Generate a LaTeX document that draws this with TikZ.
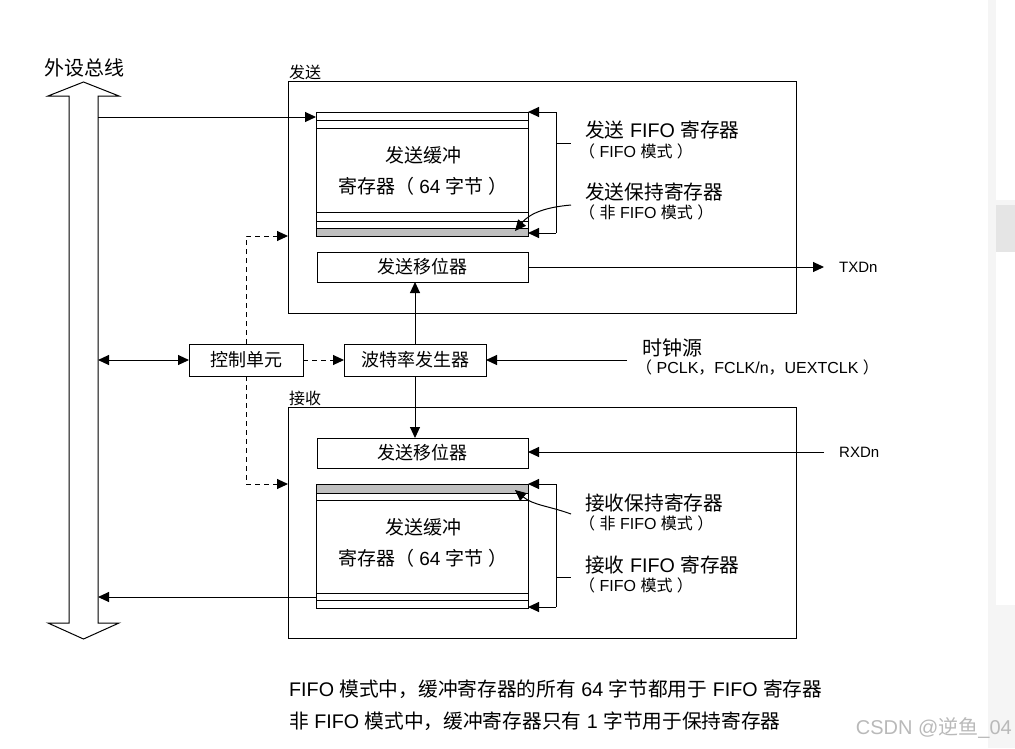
\documentclass[tikz,border=0pt]{standalone}
\usepackage{fontspec}
\setmainfont{Liberation Sans}
\newfontfamily\zhfont{Noto Sans CJK SC}
\newcommand{\zh}[1]{{\zhfont #1}}
\usetikzlibrary{arrows.meta}

\begin{document}
\begin{tikzpicture}[x=1pt, y=-1pt,
		boite/.style={draw, line width=1pt, outer sep=0pt, inner sep=0pt},
		fleche/.style={line width=1pt, -{Triangle[length=11pt,width=10pt]}},
		pointille/.style={fleche, dash pattern=on 5pt off 4pt},
		titre/.style={font=\fontsize{16}{18}\selectfont\zhfont, anchor=south west, inner sep=1pt},
		legende/.style={font=\fontsize{19.7}{22}\selectfont, anchor=west, inner sep=0pt},
		mode/.style={font=\fontsize{16}{18}\selectfont, anchor=west, inner sep=0pt},
		texte/.style={font=\fontsize{18}{20}\selectfont\zhfont}]
	\useasboundingbox (0,0) rectangle (1015,748);

	% Barre laterale
	\fill[gray!8] (988,0) rectangle (1015,748);
	\fill[white] (996,0) rectangle (1015,200);
	\fill[gray!20] (996,205) rectangle (1015,252);
	\fill[white] (996,252) rectangle (1015,605);

	% Bus peripherique
	\draw[line width=1pt, fill=white] (83.5,82) -- (119,96) -- (98,96) -- (98,623) -- (119,623)
		-- (83.5,639) -- (48,623) -- (69,623) -- (69,96) -- (48,96) -- cycle;
	\node[font=\fontsize{20}{22}\selectfont\zhfont] (bus) at (84,68) {外设总线};
	\coordinate (busR) at (98,360);

	% Emission
	\node[boite, minimum width=508, minimum height=232] (tx) at (542,197) {};
	\node[titre] (txtitre) at (tx.north west) {发送};
	\fill[gray!50] (316,228) rectangle (528,236);
	\foreach \y in {120,128,212,221,228}
		\draw[line width=1pt] (316,\y) -- (528,\y);
	\node[boite, minimum width=212, minimum height=124] (txfifo) at (422,174) {};
	\node[font=\fontsize{19}{31}\selectfont, align=center] (txfifotxt) at (423,170.5) {\zh{发送缓冲}\\\zh{寄存器（} 64 \zh{字节} \zh{）}};
	\node[boite, texte, minimum width=211, minimum height=30] (txshift) at (422.5,267) {发送移位器};

	% Accolade emission
	\coordinate (txbh) at (556,112);
	\coordinate (txbb) at (556,233);
	\draw[line width=1pt] (txbh) -- (txbb);
	\draw[fleche] (txbh) -- (txbh -| txfifo.east);
	\draw[fleche] (txbb) -- (txbb -| txfifo.east);
	\draw[line width=1pt] (556,143) -- (571,143);
	\draw[fleche] (571,205) to[out=185,in=50] (515,231);

	\node[legende] (txfifolbl) at (585,130) {\zh{发送} FIFO \zh{寄存器}};
	\node[mode] (txfifomode) at (579,151) {\zh{（} FIFO \zh{模式} \zh{）}};
	\node[legende] (txholdlbl) at (585,192) {\zh{发送保持寄存器}};
	\node[mode] (txholdmode) at (579,212) {\zh{（} \zh{非} FIFO \zh{模式} \zh{）}};

	\node[anchor=west, inner sep=0pt, font=\fontsize{15}{17}\selectfont] (txd) at (839,267) {TXDn};
	\draw[fleche, shorten >=15pt] (txshift.east) -- (txd.west);
	\draw[fleche] (busR |- 0,117) -- (txfifo.west |- 0,117);

	% Controle et horloge
	\node[boite, texte, minimum width=114, minimum height=32] (ctrl) at (246,360) {控制单元};
	\node[boite, texte, minimum width=142, minimum height=32] (baud) at (415,360) {波特率发生器};
	\draw[line width=1pt, {Triangle[length=11pt,width=10pt]}-{Triangle[length=11pt,width=10pt]}] (busR) -- (ctrl.west);
	\draw[pointille] (ctrl.east) -- (baud.west);
	\draw[fleche] (baud.north) -- (baud.north |- txshift.south);

	\coordinate (clk) at (627,360);
	\draw[fleche] (clk) -- (baud.east);
	\node[legende, font=\fontsize{20}{22}\selectfont\zhfont] (clktxt) at (642,348) {时钟源};
	\node[mode] (clksrc) at (636,367) {\zh{（} PCLK\zh{，}FCLK/n\zh{，}UEXTCLK \zh{）}};

	% Reception
	\node[boite, minimum width=508, minimum height=231] (rx) at (542,522.5) {};
	\node[titre] (rxtitre) at (rx.north west) {接收};
	\node[boite, texte, minimum width=211, minimum height=30] (rxshift) at (422.5,453) {发送移位器};
	\fill[gray!50] (316,484) rectangle (528,493);
	\foreach \y in {493,500,593,600}
		\draw[line width=1pt] (316,\y) -- (528,\y);
	\node[boite, minimum width=212, minimum height=124] (rxfifo) at (422,546) {};
	\node[font=\fontsize{19}{31}\selectfont, align=center] (rxfifotxt) at (423,542.5) {\zh{发送缓冲}\\\zh{寄存器（} 64 \zh{字节} \zh{）}};
	\draw[fleche] (baud.south) -- (baud.south |- rxshift.north);

	% Accolade reception
	\coordinate (rxbh) at (556,484);
	\coordinate (rxbb) at (556,607);
	\draw[line width=1pt] (rxbh) -- (rxbb);
	\draw[fleche] (rxbh) -- (rxbh -| rxfifo.east);
	\draw[fleche] (rxbb) -- (rxbb -| rxfifo.east);
	\draw[line width=1pt] (556,577) -- (571,577);
	\draw[fleche] (571,514) to[out=160,in=-40] (515,490);

	\node[legende] (rxholdlbl) at (585,503) {\zh{接收保持寄存器}};
	\node[mode] (rxholdmode) at (579,523) {\zh{（} \zh{非} FIFO \zh{模式} \zh{）}};
	\node[legende] (rxfifolbl) at (585,565) {\zh{接收} FIFO \zh{寄存器}};
	\node[mode] (rxfifomode) at (579,585) {\zh{（} FIFO \zh{模式} \zh{）}};

	\node[anchor=west, inner sep=0pt, font=\fontsize{15}{17}\selectfont] (rxd) at (839,452) {RXDn};
	\coordinate (rxdin) at (824,452);
	\draw[fleche] (rxdin) -- (rxdin -| rxshift.east);
	\draw[fleche] (rxfifo.west |- 0,597) -- (busR |- 0,597);

	% Liaisons pointillees
	\draw[pointille] (ctrl.north) |- (tx.west |- 0,236);
	\draw[pointille] (ctrl.south) |- (rx.west |- 0,484);

	% Notes
	\node[legende] (note1) at (289,689) {FIFO \zh{模式中，缓冲寄存器的所有} 64 \zh{字节都用于} FIFO \zh{寄存器}};
	\node[legende] (note2) at (289,721) {\zh{非} FIFO \zh{模式中，缓冲寄存器只有} 1 \zh{字节用于保持寄存器}};
	\node[anchor=east, inner sep=0pt, text=gray!55, font=\fontsize{20}{22}\selectfont] (csdn) at (1012,728) {CSDN @\zh{逆鱼}\_04};
\end{tikzpicture}
\end{document}
